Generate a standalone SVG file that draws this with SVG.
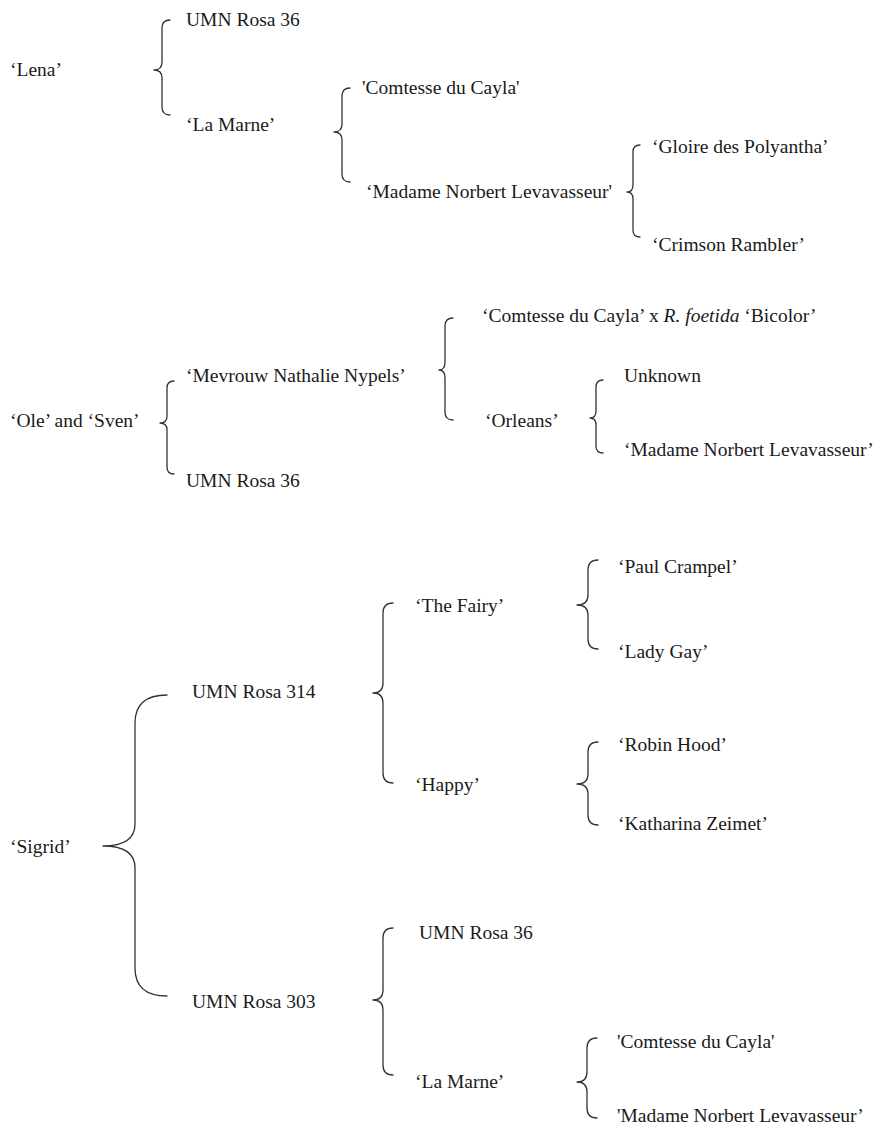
<svg xmlns="http://www.w3.org/2000/svg" width="874" height="1127" viewBox="0 0 874 1127">
<style>
  text { font-family: "Liberation Serif", "Times New Roman", serif; font-size: 19.5px; fill: #1a1a1a; }
  .brace { fill: none; stroke: #333333; stroke-width: 1.3; stroke-linecap: round; stroke-linejoin: round; }
</style>
<rect width="874" height="1127" fill="#ffffff"/>
<g id="connectors">
  <path class="brace" d="M170,20 Q162,20 162,28 L162,62 Q162,70 154,70 Q162,70 162,78 L162,107 Q162,115 170,115"/>
  <path class="brace" d="M350,88 Q342,88 342,96 L342,124 Q342,132 334,132 Q342,132 342,140 L342,174 Q342,182 350,182"/>
  <path class="brace" d="M640,145 Q633,145 633,152 L633,185 Q633,192 627,192 Q633,192 633,199 L633,230 Q633,237 640,237"/>
  <path class="brace" d="M174,381 Q167,381 167,388 L167,416 Q167,423 160,423 Q167,423 167,430 L167,467 Q167,474 174,474"/>
  <path class="brace" d="M453,318 Q445,318 445,326 L445,362 Q445,370 439,370 Q445,370 445,378 L445,412 Q445,420 453,420"/>
  <path class="brace" d="M603,380 Q596,380 596,387 L596,411 Q596,418 590,418 Q596,418 596,425 L596,446 Q596,453 603,453"/>
  <path class="brace" d="M167,695 Q135,695 135,723 L135,824 Q135,846 103,846 Q135,846 135,868 L135,968 Q135,996 167,996"/>
  <path class="brace" d="M393,603 Q383,603 383,613 L383,683 Q383,693 373,693 Q383,693 383,703 L383,773 Q383,783 393,783"/>
  <path class="brace" d="M598,560 Q588,560 588,570 L588,595 Q588,605 577,605 Q588,605 588,615 L588,639 Q588,649 598,649"/>
  <path class="brace" d="M598,742 Q588,742 588,752 L588,774 Q588,784 577,784 Q588,784 588,794 L588,815 Q588,825 598,825"/>
  <path class="brace" d="M393,928 Q383,928 383,938 L383,990 Q383,1000 373,1000 Q383,1000 383,1010 L383,1065 Q383,1075 393,1075"/>
  <path class="brace" d="M597,1038 Q587,1038 587,1048 L587,1072 Q587,1082 577,1082 Q587,1082 587,1092 L587,1108 Q587,1118 597,1118"/>
</g>
<g id="lena"><text x="10" y="76">‘Lena’</text></g>
<g id="lena-umn36"><text x="186" y="26">UMN Rosa 36</text></g>
<g id="lena-lamarne"><text x="186" y="131">‘La Marne’</text></g>
<g id="lena-comtesse"><text x="362" y="94">'Comtesse du Cayla'</text></g>
<g id="lena-madame"><text x="366" y="198">‘Madame Norbert Levavasseur'</text></g>
<g id="lena-gloire"><text x="652" y="153">‘Gloire des Polyantha’</text></g>
<g id="lena-crimson"><text x="652" y="251">‘Crimson Rambler’</text></g>
<g id="olesven"><text x="10" y="427">‘Ole’ and ‘Sven’</text></g>
<g id="os-mevrouw"><text x="186" y="382">‘Mevrouw Nathalie Nypels’</text></g>
<g id="os-umn36"><text x="186" y="487">UMN Rosa 36</text></g>
<g id="os-comtesse-foetida"><text x="482" y="322">‘Comtesse du Cayla’ x <tspan font-style="italic">R. foetida</tspan> ‘Bicolor’</text></g>
<g id="os-orleans"><text x="485" y="427">‘Orleans’</text></g>
<g id="os-unknown"><text x="624" y="382">Unknown</text></g>
<g id="os-madame"><text x="624" y="456">‘Madame Norbert Levavasseur’</text></g>
<g id="sigrid"><text x="10" y="853">‘Sigrid’</text></g>
<g id="s-umn314"><text x="192" y="698">UMN Rosa 314</text></g>
<g id="s-umn303"><text x="192" y="1008">UMN Rosa 303</text></g>
<g id="s-fairy"><text x="415" y="612">‘The Fairy’</text></g>
<g id="s-happy"><text x="415" y="791">‘Happy’</text></g>
<g id="s-paul"><text x="618" y="573">‘Paul Crampel’</text></g>
<g id="s-ladygay"><text x="618" y="658">‘Lady Gay’</text></g>
<g id="s-robin"><text x="618" y="751">‘Robin Hood’</text></g>
<g id="s-katharina"><text x="618" y="830">‘Katharina Zeimet’</text></g>
<g id="s-umn36"><text x="419" y="939">UMN Rosa 36</text></g>
<g id="s-lamarne"><text x="415" y="1088">‘La Marne’</text></g>
<g id="s-comtesse"><text x="617" y="1048">'Comtesse du Cayla'</text></g>
<g id="s-madame"><text x="617" y="1122">'Madame Norbert Levavasseur’</text></g>
</svg>
